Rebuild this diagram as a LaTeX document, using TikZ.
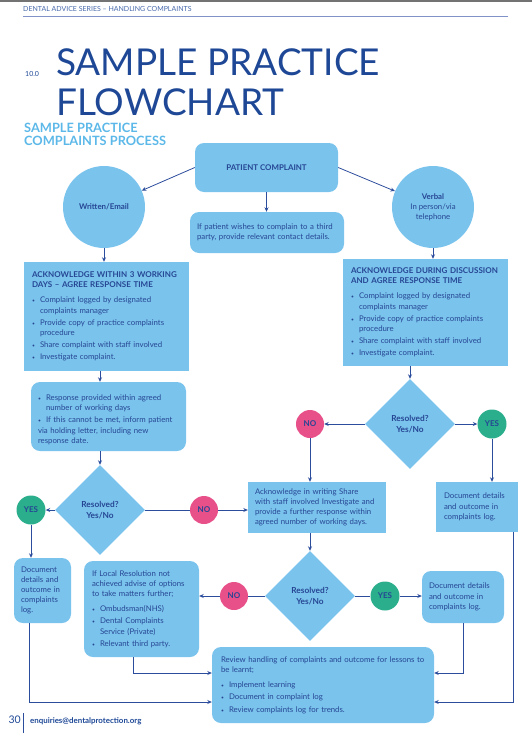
\documentclass[tikz,border=0pt]{standalone}
\usepackage{fontspec}
\setmainfont{Lato}
\usetikzlibrary{arrows.meta,shapes.geometric}
\setlength{\parindent}{0pt}
\definecolor{boxblue}{RGB}{122,195,236}
\definecolor{ink}{RGB}{38,70,148}
\definecolor{arrowblue}{RGB}{44,76,156}
\definecolor{liteblue}{RGB}{128,146,200}
\definecolor{yesgreen}{RGB}{42,174,140}
\definecolor{nopink}{RGB}{232,80,138}
\definecolor{headblue}{RGB}{70,104,170}
\definecolor{subblue}{RGB}{92,184,232}
\definecolor{titleblue}{RGB}{30,72,150}
\newcommand{\bul}[1]{\par\vspace{2pt}\hangindent=8pt\hangafter=1\makebox[8pt][l]{\fontsize{5}{5}\selectfont\textbullet}#1}
\newcommand{\boxhead}[1]{{\bfseries\fontsize{8}{10.4}\selectfont #1}}
\begin{document}
\begin{tikzpicture}[x=1pt,y=-1pt,
  box/.style={fill=boxblue,text=ink,font=\fontsize{7.8}{10.2}\selectfont,align=left,inner xsep=8pt,inner ysep=5pt},
  rbox/.style={box,rounded corners=9pt},
  bubble/.style={circle,fill=boxblue,text=ink,inner sep=0pt,minimum size=82pt,align=center,font=\fontsize{7.8}{10.2}\selectfont},
  ask/.style={diamond,fill=boxblue,text=ink,inner sep=0pt,minimum width=90pt,minimum height=90pt,align=center,font=\bfseries\fontsize{8.3}{10.5}\selectfont},
  yesdot/.style={circle,fill=yesgreen,text=ink,inner sep=0pt,minimum size=29pt,font=\bfseries\fontsize{8}{9}\selectfont},
  nodot/.style={yesdot,fill=nopink,minimum size=28pt},
  arr/.style={draw=arrowblue,line width=0.8pt,-{Stealth[length=4.5pt,width=4pt]}},
  plain/.style={draw=arrowblue,line width=0.8pt}]
\useasboundingbox (0,0) rectangle (532,742);
\fill[black!55] (0,0) rectangle (532,1.6);
\draw[liteblue,line width=0.7pt] (23,16) -- (508,16);
\node[anchor=base west,inner sep=0,text=headblue,font=\fontsize{7}{8}\selectfont] (series) at (23,11) {DENTAL ADVICE SERIES -- HANDLING COMPLAINTS};
\node[anchor=base west,inner sep=0,text=titleblue,font=\fontsize{7}{8}\selectfont] (num) at (25,76) {10.0};
\node[anchor=base west,inner sep=0,text=titleblue,font=\fontsize{37}{40}\selectfont] (title) at (56,75) {SAMPLE PRACTICE};
\node[anchor=base west,inner sep=0,text=titleblue,font=\fontsize{37}{40}\selectfont] (title2) at (56,115) {FLOWCHART};
\node[anchor=base west,inner sep=0,text=subblue,font=\bfseries\fontsize{12.8}{13}\selectfont,align=left] (sub) at (24,145) {SAMPLE PRACTICE\\COMPLAINTS PROCESS};

\node[rbox,align=center,minimum width=143pt,minimum height=49pt,font=\bfseries\fontsize{7.9}{9}\selectfont] (pc) at (266.5,167.5) {PATIENT COMPLAINT};
\node[rbox,inner xsep=7pt,text width=140pt,minimum height=41pt] (tp) at (267,232.5) {If patient wishes to complain to a third\\party, provide relevant contact details.};
\node[bubble,font=\bfseries\fontsize{7.9}{10}\selectfont] (we) at (104,207) {Written/Email};
\node[bubble] (vb) at (433,207) {\textbf{Verbal}\\In person/via\\telephone};

\node[box,text width=149pt,minimum height=109pt] (ackL) at (106.5,316.5) {\boxhead{ACKNOWLEDGE WITHIN 3 WORKING\\DAYS -- AGREE RESPONSE TIME}\par\vspace{3pt}\bul{Complaint logged by designated\newline complaints manager}\bul{Provide copy of practice complaints\newline procedure}\bul{Share complaint with staff involved}\bul{Investigate complaint.}};
\node[box,text width=149pt,minimum height=107pt] (ackR) at (425.5,312.5) {\boxhead{ACKNOWLEDGE DURING DISCUSSION\\AND AGREE RESPONSE TIME}\par\vspace{3pt}\bul{Complaint logged by designated\newline complaints manager}\bul{Provide copy of practice complaints\newline procedure}\bul{Share complaint with staff involved}\bul{Investigate complaint.}};

\node[rbox,inner xsep=7pt,text width=141pt,minimum height=69pt] (resp) at (108.5,416.5) {\bul{Response provided within agreed\newline number of working days}\bul{If this cannot be met, inform patient\newline via holding letter, including new\newline response date.}};
\node[ask] (dL) at (100,510) {Resolved?\\Yes/No};
\node[yesdot] (yesL) at (31,510) {YES};
\node[nodot] (noL) at (204,510) {NO};
\node[box,inner xsep=7pt,text width=124pt,minimum height=51pt] (mid) at (317,507.5) {Acknowledge in writing Share\\with staff involved Investigate and\\provide a further response within\\agreed number of working days.};

\node[ask] (dR) at (410,424) {Resolved?\\Yes/No};
\node[nodot] (noR) at (310,424) {NO};
\node[yesdot] (yesR) at (492,424) {YES};
\node[box,text width=66pt,minimum height=50pt] (docR1) at (477,507) {Document details\\and outcome in\\complaints log.};

\node[rbox,inner xsep=7pt,text width=43pt,minimum height=65pt] (docL) at (42.5,590.5) {Document\\details and\\outcome in\\complaints\\log.};
\node[ask] (dM) at (310,596) {Resolved?\\Yes/No};
\node[nodot] (noM) at (234,596) {NO};
\node[yesdot] (yesM) at (385,596) {YES};
\node[rbox,inner xsep=7pt,text width=68pt,minimum height=52pt] (docR2) at (463,597) {Document details\\and outcome in\\complaints log.};
\node[rbox,text width=99pt,minimum height=96pt] (local) at (141.5,609) {If Local Resolution not\\achieved advise of options\\to take matters further;\par\vspace{3pt}\bul{Ombudsman(NHS)}\bul{Dental Complaints\newline Service (Private)}\bul{Relevant third party.}};
\node[rbox,inner xsep=9pt,text width=204pt,minimum height=76pt] (review) at (323,685) {Review handling of complaints and outcome for lessons to\\be learnt;\par\vspace{3pt}\bul{Implement learning}\bul{Document in complaint log}\bul{Review complaints log for trends.}};
\coordinate (rr) at (513,702);

\draw[arr] (pc.west) -- (we);
\draw[arr] (pc.east) -- (vb);
\draw[arr] (pc.south) -- (pc.south |- tp.north);
\draw[arr] (we) -- (we |- ackL.north);
\draw[arr] (vb) -- (vb |- ackR.north);
\draw[arr] (dL |- ackL.south) -- (dL |- resp.north);
\draw[arr] (dL |- resp.south) -- (dL);
\draw[arr] (dL) -- (yesL);
\draw[plain] (dL) -- (noL);
\draw[arr] (noL) -- (noL -| mid.west);
\draw[arr] (yesL) -- (yesL |- docL.north);
\draw[arr] (dR |- ackR.south) -- (dR);
\draw[arr] (dR) -- (noR);
\draw[arr] (noR) -- (noR |- mid.north);
\draw[arr] (dR) -- (yesR);
\draw[arr] (yesR) -- (yesR |- docR1.north);
\draw[arr] (dM |- mid.south) -- (dM);
\draw[plain] (dM) -- (noM);
\draw[arr] (noM) -- (noM -| local.east);
\draw[plain] (dM) -- (yesM);
\draw[arr] (yesM) -- (yesM -| docR2.west);
\draw[arr] (docR2) |- ([yshift=12pt]review.east);
\draw[arr] (docR1.south -| rr) -- (rr) -- (rr -| review.east);
\draw[arr] ([xshift=-8pt]local.south) |- ([yshift=12pt]review.west);
\draw[arr] ([xshift=-13pt]docL.south) |- ([yshift=-17pt]review.west);

\node[anchor=base east,inner sep=0,text=titleblue,font=\fontsize{10.5}{12}\selectfont] (page) at (21,723) {30};
\draw[arrowblue,line width=0.6pt] (23.5,713) -- (23.5,733);
\node[anchor=base west,inner sep=0,text=titleblue,font=\bfseries\fontsize{7.9}{8}\selectfont] (mail) at (30,723) {enquiries@dentalprotection.org};
\end{tikzpicture}
\end{document}
